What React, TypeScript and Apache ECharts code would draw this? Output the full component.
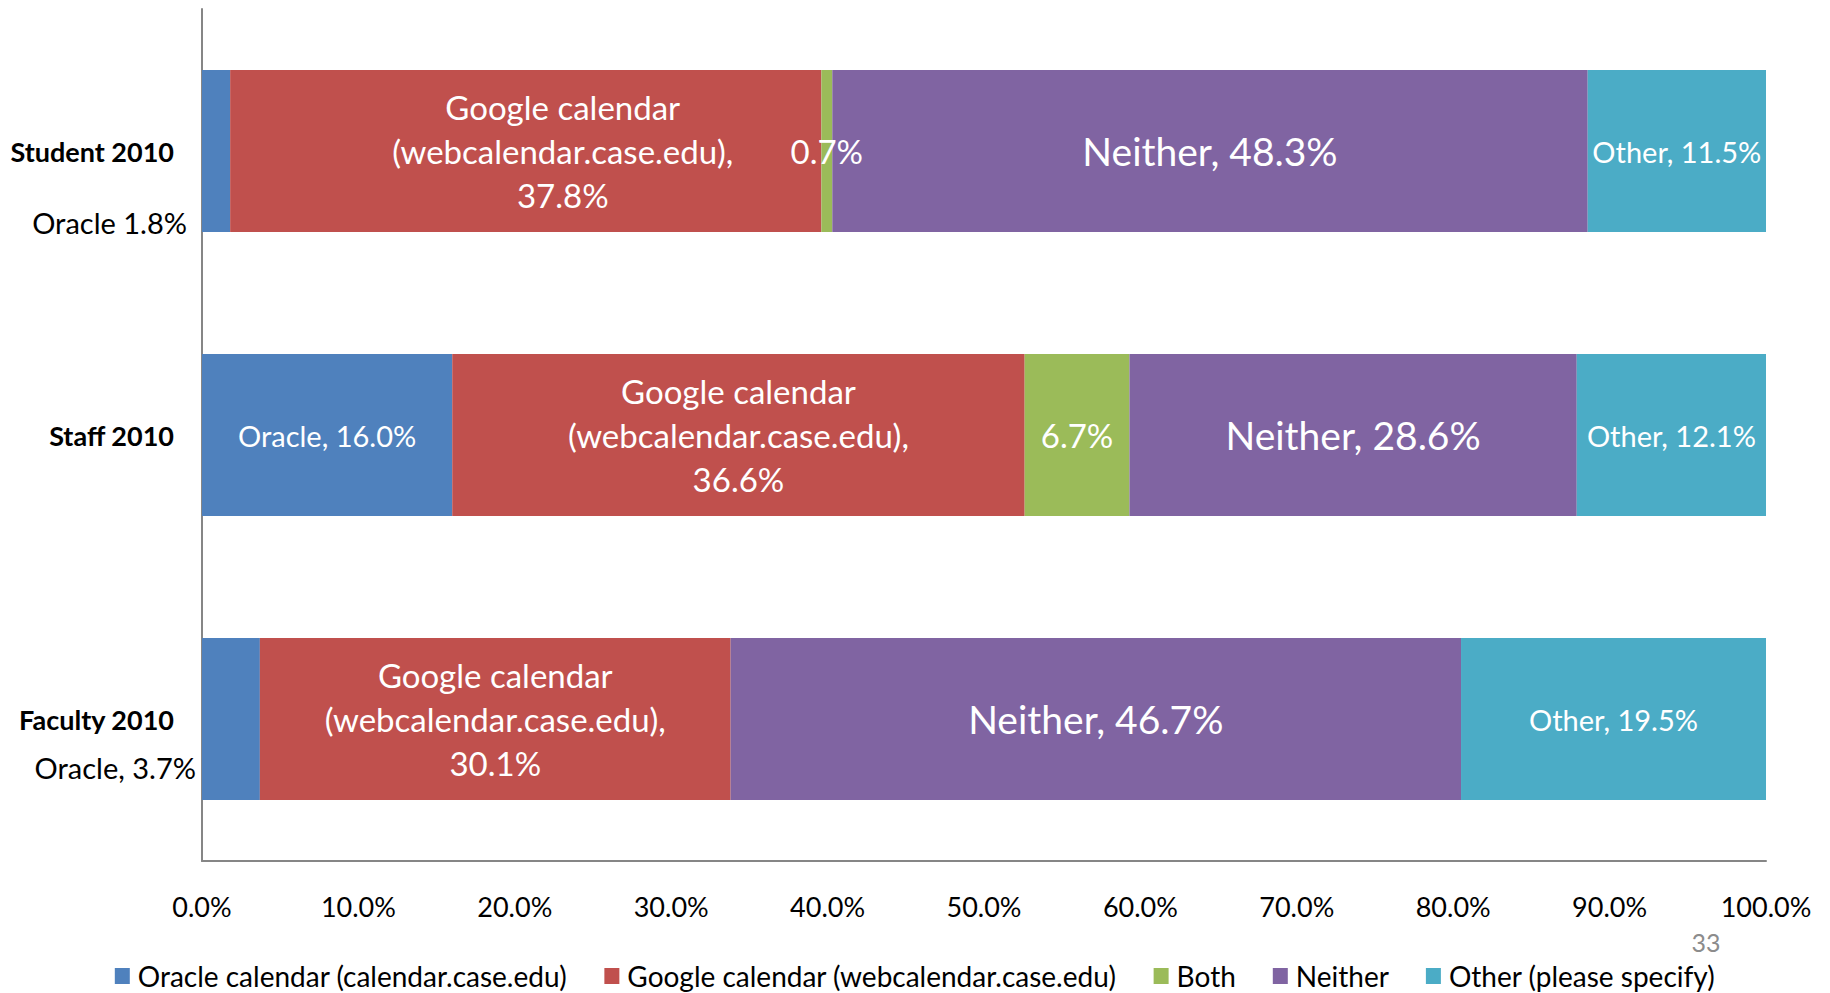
import React, { useEffect, useRef } from 'react';
import * as echarts from 'echarts';

const categories = ['Student 2010', 'Staff 2010', 'Faculty 2010'];
const seriesNames = [
  'Oracle calendar (calendar.case.edu)',
  'Google calendar (webcalendar.case.edu)',
  'Both',
  'Neither',
  'Other (please specify)',
];
const oracleValues = [1.8, 16.0, 3.7];
const googleValues = [37.8, 36.6, 30.1];
const bothValues = [0.7, 6.7, 0];
const neitherValues = [48.3, 28.6, 46.7];
const otherValues = [11.5, 12.1, 19.5];
const oraclePrefixes = ['Oracle ', 'Oracle, ', 'Oracle, '];
const colors = ['#4F81BD', '#C0504D', '#9BBB59', '#8064A2', '#4BACC6'];
const pageNumber = '33';

const FONT = 'Lato, "Noto Sans", sans-serif';
const pct = (v: number) => v.toFixed(1) + '%';

export default function App() {
  const ref = useRef<HTMLDivElement>(null);
  useEffect(() => {
    if (!ref.current) return;
    const chart = echarts.init(ref.current, undefined, { renderer: 'svg' });

    const oracleData = oracleValues.map((v, i) => {
      const inside = i === 1;
      return {
        value: v,
        label: inside
          ? { show: true, position: 'inside', color: '#fff', fontSize: 29, formatter: oraclePrefixes[i] + pct(v) }
          : {
              show: true,
              position: 'left',
              color: '#000',
              fontSize: 29,
              offset: i === 0 ? [-10, 71] : [-1, 48],
              formatter: oraclePrefixes[i] + pct(v),
            },
      };
    });

    const googleData = googleValues.map((v, i) => ({
      value: v,
      label: {
        show: true,
        position: 'inside',
        color: '#fff',
        fontSize: 33,
        lineHeight: 44,
        align: 'center',
        offset: i === 0 ? [37, 0] : [0, 0],
        formatter: 'Google calendar\n(webcalendar.case.edu),\n' + pct(v),
      },
    }));

    const bothData = bothValues.map((v) => ({
      value: v,
      label: { show: v > 0, position: 'inside', color: '#fff', fontSize: 33, formatter: pct(v) },
    }));

    const neitherData = neitherValues.map((v) => ({
      value: v,
      label: { show: true, position: 'inside', color: '#fff', fontSize: 39, formatter: 'Neither, ' + pct(v) },
    }));

    const otherData = otherValues.map((v) => ({
      value: v,
      label: { show: true, position: 'inside', color: '#fff', fontSize: 29, formatter: 'Other, ' + pct(v) },
    }));

    const datas = [oracleData, googleData, bothData, neitherData, otherData];

    chart.setOption({
      animation: false,
      textStyle: { fontFamily: FONT },
      color: colors,
      grid: { left: 202, right: 64, top: 9, bottom: 132, containLabel: false },
      legend: {
        top: 957,
        left: 'center',
        itemWidth: 15,
        itemHeight: 16,
        itemGap: 37,
        icon: 'rect',
        textStyle: { fontFamily: FONT, fontSize: 28, color: '#000', padding: [0, 0, 0, 3] },
        data: seriesNames,
      },
      xAxis: {
        type: 'value',
        min: 0,
        max: 100,
        interval: 10,
        axisLine: { show: true, lineStyle: { color: '#868686', width: 2 } },
        axisTick: { show: false },
        splitLine: { show: false },
        axisLabel: {
          margin: 32,
          fontSize: 27,
          color: '#000',
          fontFamily: FONT,
          formatter: (v: number) => v.toFixed(1) + '%',
        },
      },
      yAxis: {
        type: 'category',
        data: categories,
        inverse: true,
        axisLine: { show: true, lineStyle: { color: '#868686', width: 2 } },
        axisTick: { show: false },
        axisLabel: { margin: 28, fontSize: 27, fontWeight: 'bold', color: '#000', fontFamily: FONT },
      },
      series: seriesNames.map((name, i) => ({
        name,
        type: 'bar',
        stack: 'total',
        barCategoryGap: '43%',
        data: datas[i],
        label: { fontFamily: FONT },
      })),
      graphic: [
        {
          type: 'text',
          x: 1706,
          y: 942,
          style: {
            text: pageNumber,
            fontSize: 25,
            fontFamily: FONT,
            fill: '#8C8C8C',
            align: 'center',
            verticalAlign: 'middle',
          },
        },
      ],
    });
    return () => chart.dispose();
  }, []);

  return <div ref={ref} style={{ position: 'fixed', left: 0, top: 0, width: 1830, height: 993, background: '#fff' }} />;
}
